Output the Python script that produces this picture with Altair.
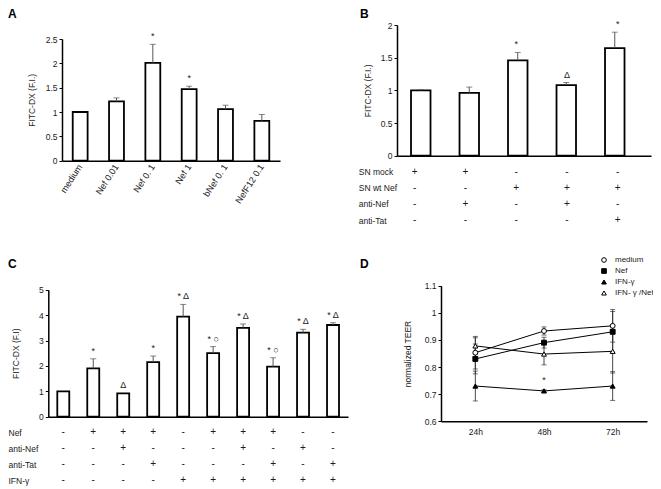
import altair as alt
import pandas as pd

W, H = 645, 481
FONT = "Liberation Sans"
INK = "#1a1a1a"
ERRC = "#555555"

# ---------------- Panel A ----------------
catsA = ["medium", "Nef 0.01", "Nef 0. 1", "Nef 1", "bNef 0. 1", "NefF12 0.1"]
valsA = [1.0, 1.22, 2.01, 1.47, 1.06, 0.82]
errA = [0.0, 0.07, 0.38, 0.06, 0.08, 0.13]
sigA = ["", "", "*", "*", "", ""]

# ---------------- Panel B ----------------
condB = ["b1", "b2", "b3", "b4", "b5"]
valsB = [1.0, 0.96, 1.46, 1.08, 1.645]
errB = [0.01, 0.09, 0.12, 0.04, 0.245]
sigB = ["", "", "*", "Δ", "*"]
rowsB = ["SN mock", "SN wt Nef", "anti-Nef", "anti-Tat"]
tableB = [
    ["+", "+", "-", "-", "-"],
    ["-", "-", "+", "+", "+"],
    ["-", "+", "-", "+", "-"],
    ["-", "-", "-", "-", "+"],
]

# ---------------- Panel C ----------------
condC = ["c1", "c2", "c3", "c4", "c5", "c6", "c7", "c8", "c9", "c10"]
valsC = [1.0, 1.9, 0.92, 2.15, 3.94, 2.5, 3.5, 1.97, 3.31, 3.61]
errC = [0.0, 0.38, 0.0, 0.24, 0.48, 0.26, 0.15, 0.35, 0.13, 0.09]
sigC = ["", "*", "Δ", "*", "* Δ", "* ○", "* Δ", "* ○", "* Δ", "* Δ"]
rowsC = ["Nef", "anti-Nef", "anti-Tat", "IFN-γ"]
tableC = [
    ["-", "+", "+", "+", "-", "+", "+", "+", "-", "-"],
    ["-", "-", "+", "-", "-", "-", "+", "-", "+", "-"],
    ["-", "-", "-", "+", "-", "-", "-", "+", "-", "+"],
    ["-", "-", "-", "-", "+", "+", "+", "+", "+", "+"],
]

# ---------------- Panel D ----------------
times = ["24h", "48h", "72h"]
seriesD = ["medium", "Nef", "IFN-γ", "IFN- γ /Nef"]
valsD = {
    "medium": [0.853, 0.933, 0.952],
    "Nef": [0.83, 0.89, 0.93],
    "IFN-γ": [0.73, 0.712, 0.73],
    "IFN- γ /Nef": [0.878, 0.848, 0.858],
}
errD = {
    "medium": [0.06, 0.015, 0.06],
    "Nef": [0.055, 0.02, 0.075],
    "IFN-γ": [0.055, 0.004, 0.053],
    "IFN- γ /Nef": [0.03, 0.04, 0.08],
}
sigD_time = ["48h"]
sigD_series = ["IFN-γ"]
sigD_text = ["*"]


def bar_layers(cats, vals, errs, sigs, sx, sy, xaxis, yaxis):
    df = pd.DataFrame({"cond": cats, "value": vals, "err": errs, "sig": sigs})
    df["top"] = df["value"] + df["err"]
    bars = alt.Chart(df).mark_bar(fill="white", stroke="black", strokeWidth=1.8).encode(
        x=alt.X("cond:N", scale=sx, axis=xaxis, sort=None),
        y=alt.Y("value:Q", scale=sy, axis=yaxis),
    )
    xp = alt.X("cond:N", scale=sx, axis=None, sort=None)
    edf = df[df["err"] > 0]
    rule = alt.Chart(edf).mark_rule(color=ERRC, strokeWidth=1).encode(
        x=xp, y=alt.Y("value:Q", scale=sy, axis=None), y2="top:Q"
    )
    cap = alt.Chart(edf).mark_tick(color=ERRC, thickness=1, size=6).encode(
        x=xp, y=alt.Y("top:Q", scale=sy, axis=None)
    )
    txt = alt.Chart(df[df["sig"] != ""]).mark_text(
        baseline="bottom", dy=-3, fontSize=9, font=FONT, color=INK
    ).encode(x=xp, y=alt.Y("top:Q", scale=sy, axis=None), text="sig:N")
    return [bars, rule, cap, txt]


def table_layer(cats, rows, table, sx, yrange, offset):
    recs = [
        {"cond": c, "row": r, "sym": table[i][j]}
        for i, r in enumerate(rows)
        for j, c in enumerate(cats)
    ]
    return alt.Chart(pd.DataFrame(recs)).mark_text(
        fontSize=10, font=FONT, color=INK, baseline="middle"
    ).encode(
        x=alt.X("cond:N", scale=sx, axis=None, sort=None),
        y=alt.Y(
            "row:N",
            sort=None,
            scale=alt.Scale(type="point", domain=rows, range=yrange, padding=0),
            axis=alt.Axis(
                orient="left", offset=offset, ticks=False, tickSize=0, domain=False,
                labelAlign="left", labelPadding=0, labelBaseline="middle", title=None,
                labelFontSize=8.5,
            ),
        ),
        text="sym:N",
    )


def yax(title, values, offset, tp):
    return alt.Axis(
        orient="left", offset=offset, values=values, format="~g", title=title,
        tickSize=3, titlePadding=tp,
    )


# scales (pixel ranges inside the 645 x 481 canvas)
sxA = alt.Scale(domain=catsA, range=[54, 272], paddingInner=0.59, paddingOuter=0.295)
syA = alt.Scale(domain=[0, 2.5], range=[152.7, 31], nice=False)
sxB = alt.Scale(domain=condB, range=[389, 643], paddingInner=0.598, paddingOuter=0.4175, align=0.346)
syB = alt.Scale(domain=[0, 2], range=[147.7, 17], nice=False)
sxC = alt.Scale(domain=condC, range=[40.3, 340], paddingInner=0.6, paddingOuter=0.3)
syC = alt.Scale(domain=[0, 5], range=[408.7, 281.7], nice=False)
sxD = alt.Scale(type="point", domain=times, range=[433, 639], padding=0.5)
syD = alt.Scale(domain=[0.6, 1.1], range=[413.3, 277.7], nice=False, zero=False)

layers = []
layers += bar_layers(
    catsA, valsA, errA, sigA, sxA, syA,
    alt.Axis(orient="bottom", offset=152.7 - H, title=None, ticks=False, tickSize=0,
             labelAngle=-57, labelAlign="right", labelBaseline="middle", labelPadding=4,
             labelFontSize=9),
    yax("FITC-DX (F.I.)", [0, 0.5, 1, 1.5, 2, 2.5], -54, 9),
)
layers += bar_layers(
    condB, valsB, errB, sigB, sxB, syB,
    alt.Axis(orient="bottom", offset=147.7 - H, title=None, ticks=False, labels=False),
    yax("FITC-DX (F.I.)", [0, 0.5, 1, 1.5, 2], -389, 8),
)
layers.append(table_layer(condB, rowsB, tableB, sxB, [163.7, 212], -350.3))
layers += bar_layers(
    condC, valsC, errC, sigC, sxC, syC,
    alt.Axis(orient="bottom", offset=408.7 - H, title=None, ticks=False, labels=False),
    yax("FITC-DX (F.I)", [0, 1, 2, 3, 4, 5], -40.3, 18),
)
layers.append(table_layer(condC, rowsC, tableC, sxC, [424, 472], 0))

# Panel D
recs = []
for s in seriesD:
    for i, t in enumerate(times):
        recs.append({"time": t, "series": s, "value": valsD[s][i], "err": errD[s][i]})
dfD = pd.DataFrame(recs)
dfD["lo"] = dfD["value"] - dfD["err"]
dfD["hi"] = dfD["value"] + dfD["err"]

xD = alt.X("time:N", scale=sxD, sort=None,
           axis=alt.Axis(orient="bottom", offset=413.3 - H, title=None, ticks=False,
                         tickSize=0, labelPadding=6, labelAngle=0, labelFontSize=8.5))
xDp = alt.X("time:N", scale=sxD, axis=None, sort=None)
legD = alt.Legend(
    title=None, orient="none", legendX=592, legendY=248, labelFontSize=8,
    symbolSize=22, symbolStrokeWidth=1,
    rowPadding=1, padding=0, labelOffset=7,
)

layers.append(alt.Chart(dfD).mark_line(color="black", strokeWidth=1).encode(
    x=xD,
    y=alt.Y("value:Q", scale=syD,
            axis=yax("normalized TEER", [0.6, 0.7, 0.8, 0.9, 1, 1.1], -433, 12)),
    detail="series:N",
))
layers.append(alt.Chart(dfD).mark_rule(color="#333333", strokeWidth=0.9).encode(
    x=xDp, y=alt.Y("lo:Q", scale=syD, axis=None), y2="hi:Q"
))
layers.append(alt.Chart(dfD).mark_tick(color="#333333", thickness=1, size=5).encode(
    x=xDp, y=alt.Y("lo:Q", scale=syD, axis=None)
))
layers.append(alt.Chart(dfD).mark_tick(color="#333333", thickness=1, size=5).encode(
    x=xDp, y=alt.Y("hi:Q", scale=syD, axis=None)
))
layers.append(alt.Chart(dfD).mark_point(filled=True, size=24, strokeWidth=1, opacity=1).encode(
    x=xDp,
    y=alt.Y("value:Q", scale=syD, axis=None),
    shape=alt.Shape("series:N", sort=None,
                    scale=alt.Scale(domain=seriesD, range=["circle", "square", "triangle-up", "triangle-up"]),
                    legend=legD),
    fill=alt.Fill("series:N", sort=None,
                  scale=alt.Scale(domain=seriesD, range=["white", "black", "black", "white"]),
                  legend=legD),
    stroke=alt.Stroke("series:N", sort=None,
                      scale=alt.Scale(domain=seriesD, range=["black", "black", "black", "black"]),
                      legend=legD),
))
sigDdf = pd.DataFrame({"time": sigD_time, "series": sigD_series, "sig": sigD_text})
sigDdf = sigDdf.merge(dfD, on=["time", "series"])
layers.append(alt.Chart(sigDdf).mark_text(baseline="bottom", dy=-6, fontSize=9, font=FONT, color=INK).encode(
    x=xDp, y=alt.Y("value:Q", scale=syD, axis=None), text="sig:N"
))


def letter(ch, xpos, ypos):
    return alt.Chart(pd.DataFrame({"t": [ch]})).mark_text(
        fontSize=12, fontWeight="bold", font=FONT, color="black", align="left", baseline="top"
    ).encode(x=alt.value(xpos), y=alt.value(ypos), text="t:N")


layers += [letter("A", 0, 1), letter("B", 352, 1), letter("C", 0, 251), letter("D", 352, 251)]

chart = (
    alt.layer(*layers)
    .resolve_scale(x="independent", y="independent")
    .properties(width=W, height=H, padding=0, autosize=alt.AutoSizeParams(type="none"))
    .configure_view(stroke=None)
    .configure_axis(
        grid=False, labelFont=FONT, titleFont=FONT, labelColor=INK, titleColor=INK,
        domainColor="black", domainWidth=1.5, tickColor="black", tickWidth=1,
        labelFontSize=8.5, titleFontSize=8.5, titleFontWeight="normal",
    )
    .configure_legend(labelFont=FONT, labelColor=INK)
)

chart.save("out.html", embed_options={"renderer": "svg", "actions": False})
